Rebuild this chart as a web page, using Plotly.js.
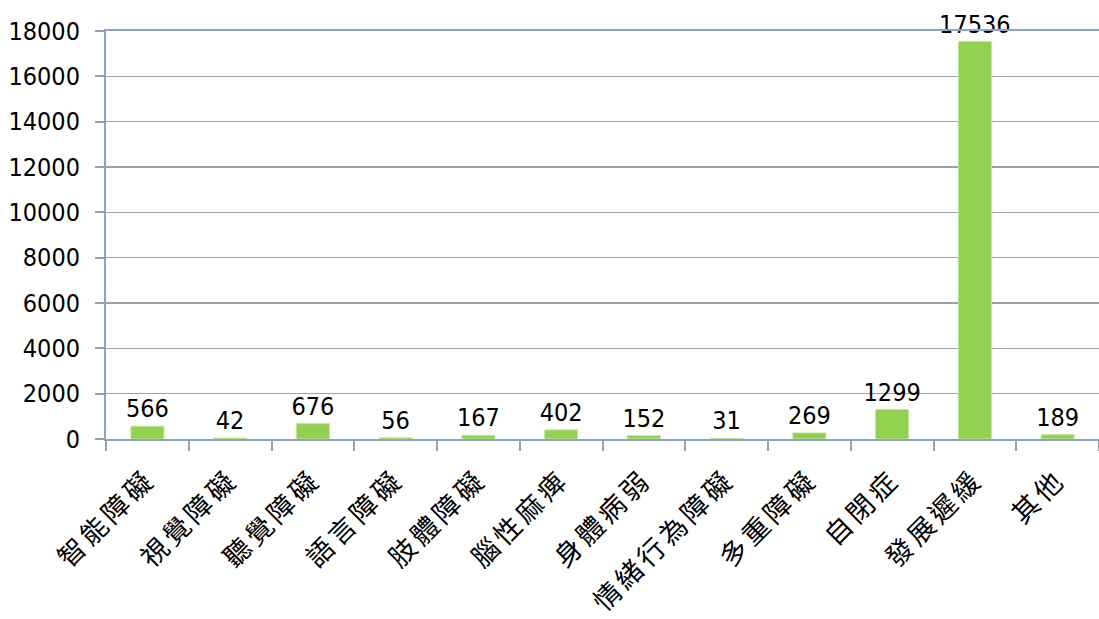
<!DOCTYPE html>
<html><head><meta charset="utf-8">
<script src="https://cdn.plot.ly/plotly-3.0.1.min.js"></script>
<style>html,body{margin:0;padding:0;background:#fff}#chart{width:1099px;height:619px}
.xtick text{letter-spacing:4px}</style>
</head><body><div id="chart"></div>
<script>
const categories = ["智能障礙","視覺障礙","聽覺障礙","語言障礙","肢體障礙","腦性麻痺","身體病弱","情緒行為障礙","多重障礙","自閉症","發展遲緩","其他"];
const values = [566, 42, 676, 56, 167, 402, 152, 31, 269, 1299, 17536, 189];
const yTicks = [0,2000,4000,6000,8000,10000,12000,14000,16000,18000];

const numFont = {family: '"DejaVu Sans Condensed", "DejaVu Sans", sans-serif', size: 25, color: '#000'};

Plotly.newPlot('chart', [{
  type: 'bar',
  x: categories,
  y: values,
  marker: {color: '#92D050', line: {color: '#C5E6A0', width: 1}},
  text: values.map(String),
  textposition: 'outside',
  textfont: numFont,
  constraintext: 'none',
  cliponaxis: false,
  hoverinfo: 'x+y'
}], {
  width: 1099, height: 619,
  margin: {l: 106, r: 0, t: 31, b: 180, pad: 0},
  paper_bgcolor: '#fff', plot_bgcolor: '#fff',
  bargap: 0.6,
  showlegend: false,
  xaxis: {
    type: 'category',
    tickangle: -45,
    tickfont: {family: '"Noto Sans CJK TC", sans-serif', size: 27, color: '#000'},
    tickson: 'boundaries',
    ticks: 'outside', ticklen: 10, tickcolor: '#A0A0A0', tickwidth: 2,
    ticklabelstandoff: 12,
    showline: true, linecolor: '#8EA2C6', linewidth: 2, mirror: true,
    showgrid: false
  },
  yaxis: {
    range: [0, 18000],
    tickvals: yTicks,
    ticktext: yTicks.map(String),
    tickfont: numFont,
    ticks: 'outside', ticklen: 9, tickcolor: '#A0A0A0', tickwidth: 2,
    ticklabelstandoff: 10,
    showline: true, linecolor: '#8EA2C6', linewidth: 2,
    showgrid: true, gridcolor: '#A0A0A0', gridwidth: 1.5,
    zeroline: false
  }
}, {staticPlot: true});
</script></body></html>
